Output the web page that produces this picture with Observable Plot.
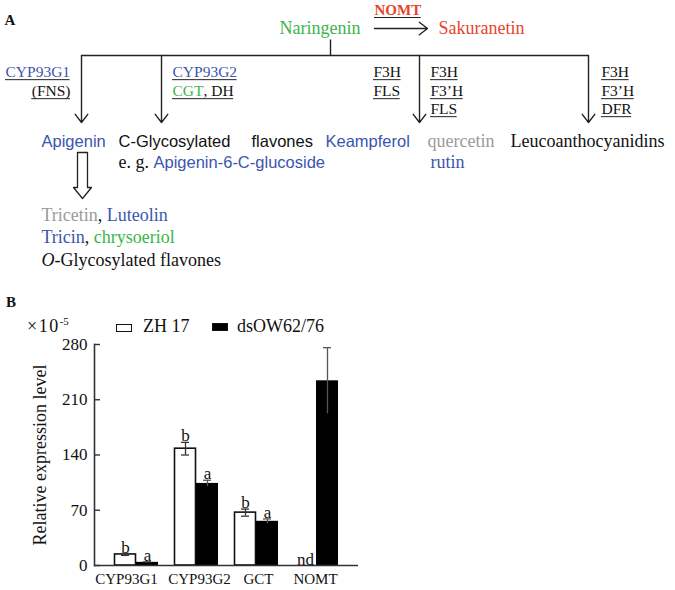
<!DOCTYPE html>
<html><head><meta charset="utf-8">
<script src="https://cdn.jsdelivr.net/npm/d3@7"></script>
<script src="https://cdn.jsdelivr.net/npm/@observablehq/plot@0.6"></script>
<style>
html,body{margin:0;padding:0;background:#fff;}
#fig{position:relative;width:675px;height:590px;overflow:hidden;font-family:"Liberation Serif",serif;color:#111;}
#fig > *{position:absolute;}
.lab{white-space:nowrap;line-height:18px;font-size:18px;}
.sw{box-sizing:border-box;width:16px;height:8px;border:1.5px solid #111;}
</style></head><body><div id="fig"></div>
<script>
// ---------------- Panel B data ----------------
const genes = ["CYP93G1", "CYP93G2", "GCT", "NOMT"];
const seriesNames = ["ZH 17", "dsOW62/76"];
const zh17 = [14, 148, 67, null];          // NOMT not detected
const zh17Err = [1.2, 8, 4.5, null];
const zh17Sig = ["b", "b", "b", "nd"];
const dsow = [4, 104, 56, 234];
const dsowErr = [0.8, 4, 3, 42];
const dsowSig = ["a", "a", "a", ""];
const yTicks = [0, 70, 140, 210, 280];
const yLabel = "Relative expression level";
const yUnit = "×10";
const yUnitExp = "-5";

// ---------------- Panel A content ----------------
const colorKey = {blue: "#3b55ae", green: "#3cb44b", red: "#e8432b", gray: "#9a9a9a", black: "#111"};
// each line: segments of [text, color, family, options]
const diagramLines = [
  {id: "A",       segs: [["A", "black", "serif", {w: "bold", size: 15}]]},
  {id: "nar",     segs: [["Naringenin", "green", "serif", {size: 18}]]},
  {id: "nomt",    segs: [["NOMT", "red", "serif", {w: "bold", size: 15, u: true}]]},
  {id: "sak",     segs: [["Sakuranetin", "red", "serif", {size: 18}]]},
  {id: "e1a",     segs: [["CYP93G1", "blue", "serif", {size: 15.5, u: true}]]},
  {id: "e1b",     segs: [["(FNS)", "black", "serif", {size: 15.5, u: true}]], anchor: "end"},
  {id: "e2a",     segs: [["CYP93G2", "blue", "serif", {size: 15.5, u: true}]]},
  {id: "e2b",     segs: [["CGT", "green", "serif", {size: 15.5, u: true}], [", DH", "black", "serif", {size: 15.5, u: true}]]},
  {id: "e3a",     segs: [["F3H", "black", "serif", {size: 15.5, u: true}]]},
  {id: "e3b",     segs: [["FLS", "black", "serif", {size: 15.5, u: true}]]},
  {id: "e4a",     segs: [["F3H", "black", "serif", {size: 15.5, u: true}]]},
  {id: "e4b",     segs: [["F3’H", "black", "serif", {size: 15.5, u: true}]]},
  {id: "e4c",     segs: [["FLS", "black", "serif", {size: 15.5, u: true}]]},
  {id: "e5a",     segs: [["F3H", "black", "serif", {size: 15.5, u: true}]]},
  {id: "e5b",     segs: [["F3’H", "black", "serif", {size: 15.5, u: true}]]},
  {id: "e5c",     segs: [["DFR", "black", "serif", {size: 15.5, u: true}]]},
  {id: "api",     segs: [["Apigenin", "blue", "sans", {size: 16.5}]]},
  {id: "cgly1",   segs: [["C-Glycosylated", "black", "sans", {size: 16.5}]]},
  {id: "cgly2",   segs: [["flavones", "black", "sans", {size: 16.5}]]},
  {id: "kae",     segs: [["Keampferol", "blue", "sans", {size: 16.5}]]},
  {id: "que",     segs: [["quercetin", "gray", "serif", {size: 18}]]},
  {id: "leu",     segs: [["Leucoanthocyanidins", "black", "serif", {size: 18}]]},
  {id: "eg",      segs: [["e. g. ", "black", "serif", {size: 18}], ["Apigenin-6-C-glucoside", "blue", "sans", {size: 16.5}]]},
  {id: "rut",     segs: [["rutin", "blue", "serif", {size: 18}]]},
  {id: "tri1",    segs: [["Tricetin", "gray", "serif", {size: 18}], [", ", "black", "serif", {size: 18}], ["Luteolin", "blue", "serif", {size: 18}]]},
  {id: "tri2",    segs: [["Tricin", "blue", "serif", {size: 18}], [", ", "black", "serif", {size: 18}], ["chrysoeriol", "green", "serif", {size: 18}]]},
  {id: "ogly",    segs: [["O", "black", "serif", {size: 18, i: true}], ["-Glycosylated flavones", "black", "serif", {size: 18}]]}
];
// layout (pixel anchor of each line: x start / end, y middle)
const layout = {
  A: [4, 20], nar: [279, 28], nomt: [374, 10], sak: [438, 28],
  e1a: [5, 72], e1b: [70, 91], e2a: [172, 72], e2b: [172, 91],
  e3a: [373, 72], e3b: [373, 91], e4a: [430, 72], e4b: [430, 91], e4c: [430, 109],
  e5a: [601, 72], e5b: [601, 91], e5c: [601, 109],
  api: [41, 141], cgly1: [118, 141], cgly2: [251, 141], kae: [325, 141], que: [427, 141], leu: [510, 141],
  eg: [118, 162], rut: [430, 162], tri1: [41, 215], tri2: [41, 237], ogly: [41, 260]
};
const connectors = [ // plain lines
  {x1: 330, y1: 39, x2: 330, y2: 55},
  {x1: 81, y1: 55, x2: 588, y2: 55}
];
const arrows = [
  {x1: 81, y1: 55, x2: 81, y2: 122},
  {x1: 161, y1: 55, x2: 161, y2: 122},
  {x1: 419, y1: 55, x2: 419, y2: 122},
  {x1: 588, y1: 55, x2: 588, y2: 122},
  {x1: 374, y1: 28, x2: 427, y2: 28}
];
const hollowArrow = {x: 82, top: 152, tip: 198, shaft: 5, head: 9, headLen: 11};
// small horizontal nudges of the category labels, as in the original
const geneLabelShift = {CYP93G1: -10, CYP93G2: 3, GCT: 2, NOMT: -1};

// ---------- build panel A ----------
const families = {serif: "Liberation Serif", sans: "Liberation Sans"};
const ctx = document.createElement("canvas").getContext("2d");
function fontStr(o, fam) { return `${o.i ? "italic " : ""}${o.w || "normal"} ${o.size}px "${families[fam]}"`; }
function measure(t, fam, o) { ctx.font = fontStr(o, fam); return ctx.measureText(t).width; }

const items = [];
for (const line of diagramLines) {
  const [lx, ly] = layout[line.id];
  const widths = line.segs.map(([t, c, f, o]) => measure(t, f, o));
  let x = line.anchor === "end" ? lx - d3.sum(widths) : lx;
  line.segs.forEach(([t, c, f, o], k) => {
    items.push({text: t, x, y: ly, w: widths[k], fill: colorKey[c], family: families[f], size: o.size, weight: o.w || "normal", style: o.i ? "italic" : "normal", u: !!o.u});
    x += widths[k];
  });
}
const underlines = items.filter(d => d.u).map(d => ({x1: d.x, x2: d.x + d.w, y: d.y + d.size * 0.32 + 2.2}));
const h = hollowArrow;
const hollowPts = [
  [h.x - h.shaft, h.top], [h.x + h.shaft, h.top], [h.x + h.shaft, h.tip - h.headLen], [h.x + h.head, h.tip - h.headLen],
  [h.x, h.tip], [h.x - h.head, h.tip - h.headLen], [h.x - h.shaft, h.tip - h.headLen], [h.x - h.shaft, h.top]
];

const plotA = Plot.plot({
  width: 675, height: 290, margin: 0,
  x: {type: "identity", axis: null}, y: {type: "identity", axis: null},
  style: {background: "transparent", overflow: "visible"},
  marks: [
    Plot.link(connectors, {x1: "x1", y1: "y1", x2: "x2", y2: "y2", stroke: "#222", strokeWidth: 1.4}),
    Plot.arrow(arrows, {x1: "x1", y1: "y1", x2: "x2", y2: "y2", stroke: "#222", strokeWidth: 1.4, headLength: 11, headAngle: 75}),
    Plot.line(hollowPts, {x: d => d[0], y: d => d[1], stroke: "#222", strokeWidth: 1.3, curve: "linear"}),
    ...items.map(d => Plot.text([d], {x: "x", y: "y", text: "text", textAnchor: "start", fill: d.fill,
      fontFamily: d.family, fontSize: d.size, fontWeight: d.weight, fontStyle: d.style})),
    Plot.ruleY(underlines, {y: "y", x1: "x1", x2: "x2", stroke: "#222", strokeWidth: 1})
  ]
});

// ---------- build panel B ----------
const rows = genes.flatMap((g, i) => [
  {gene: g, series: seriesNames[0], v: zh17[i], err: zh17Err[i], sig: zh17Sig[i]},
  {gene: g, series: seriesNames[1], v: dsow[i], err: dsowErr[i], sig: dsowSig[i]}
]);
const whiteRows = rows.filter(d => d.series === seriesNames[0] && d.v != null);
const blackRows = rows.filter(d => d.series === seriesNames[1] && d.v != null);
const errW = whiteRows.filter(d => d.err != null).map(d => ({gene: d.gene, lo: d.v - d.err, hi: d.v + d.err}));
const errB = blackRows.filter(d => d.err != null).map(d => ({gene: d.gene, lo: d.v - d.err, hi: d.v + d.err}));
const sigW = rows.filter(d => d.series === seriesNames[0]).map(d => ({gene: d.gene, sig: d.sig, top: d.v == null ? 0 : d.v + (d.err || 0)}));
const sigB = rows.filter(d => d.series === seriesNames[1] && d.sig).map(d => ({gene: d.gene, sig: d.sig, top: d.v + (d.err || 0)}));

const frameW = 675 - 94 - 317;
const plotB = Plot.plot({
  width: 675, height: 300, marginLeft: 94, marginRight: 317, marginTop: 54, marginBottom: 25,
  x: {domain: genes, range: [106, 346], padding: 0, axis: null},
  y: {domain: [0, 280], axis: null},
  style: {fontFamily: "Liberation Serif", background: "transparent", overflow: "visible", color: "#111"},
  marks: [
    Plot.barY(whiteRows, {x: "gene", y: "v", fill: "white", stroke: "#111", strokeWidth: 1.6, insetLeft: 8.5, insetRight: 30.5}),
    Plot.barY(blackRows, {x: "gene", y: "v", fill: "#000", insetLeft: 30, insetRight: 8}),
    Plot.ruleX(errW, {x: "gene", y1: "lo", y2: "hi", dx: -11, stroke: "#333", strokeWidth: 1.3}),
    Plot.tickY(errW, {x: "gene", y: "hi", insetLeft: 15, insetRight: 37, stroke: "#333", strokeWidth: 1.3}),
    Plot.tickY(errW, {x: "gene", y: "lo", insetLeft: 15, insetRight: 37, stroke: "#333", strokeWidth: 1.3}),
    Plot.ruleX(errB, {x: "gene", y1: "lo", y2: "hi", dx: 11, stroke: "#555", strokeWidth: 1.3}),
    Plot.tickY(errB, {x: "gene", y: "hi", insetLeft: 37, insetRight: 15, stroke: "#555", strokeWidth: 1.3}),
    Plot.text(sigW, {x: "gene", y: "top", text: "sig", dx: -11, lineAnchor: "bottom", dy: -1, fontSize: 17}),
    Plot.text(sigB, {x: "gene", y: "top", text: "sig", dx: 11, lineAnchor: "bottom", dy: -1, fontSize: 17}),
    Plot.ruleY([0], {stroke: "#333", strokeWidth: 1.6}),
    Plot.frame({anchor: "left", stroke: "#333", strokeWidth: 1.6}),
    Plot.tickY(yTicks, {y: d => d, insetRight: frameW - 6, stroke: "#333", strokeWidth: 1.4}),
    Plot.axisY(yTicks, {tickSize: 0, tickPadding: 7, fontSize: 17, label: null}),
    ...genes.map(g => Plot.text([g], {x: d => d, y: 0, text: d => d, dx: geneLabelShift[g], dy: 8, lineAnchor: "top", fontSize: 15})),
    Plot.text([yLabel], {frameAnchor: "left", textAnchor: "middle", dx: -54, rotate: -90, fontSize: 18})
  ]
});

const fig = document.getElementById("fig");
plotA.style.left = "0px"; plotA.style.top = "0px";
plotB.style.left = "0px"; plotB.style.top = "290px";
fig.append(plotA, plotB);

// panel B header: label, unit, legend
function addDiv(html, left, top, cls, extra) {
  const d = document.createElement("div");
  d.className = cls || "lab";
  d.innerHTML = html;
  d.style.left = left + "px"; d.style.top = top + "px";
  if (extra) Object.assign(d.style, extra);
  fig.append(d);
  return d;
}
addDiv("B", 6, 295, "lab", {fontWeight: "bold", fontSize: "15px", lineHeight: "15px"});
addDiv(`<span style="letter-spacing:1.5px">${yUnit}</span><span style="font-size:11px;position:relative;top:-7px">${yUnitExp}</span>`, 27, 317);
addDiv("", 116, 324, "sw", {background: "#fff"});
addDiv(seriesNames[0], 143, 317);
addDiv("", 212, 323, "sw", {background: "#000"});
addDiv(seriesNames[1], 237, 317);
</script></body></html>
